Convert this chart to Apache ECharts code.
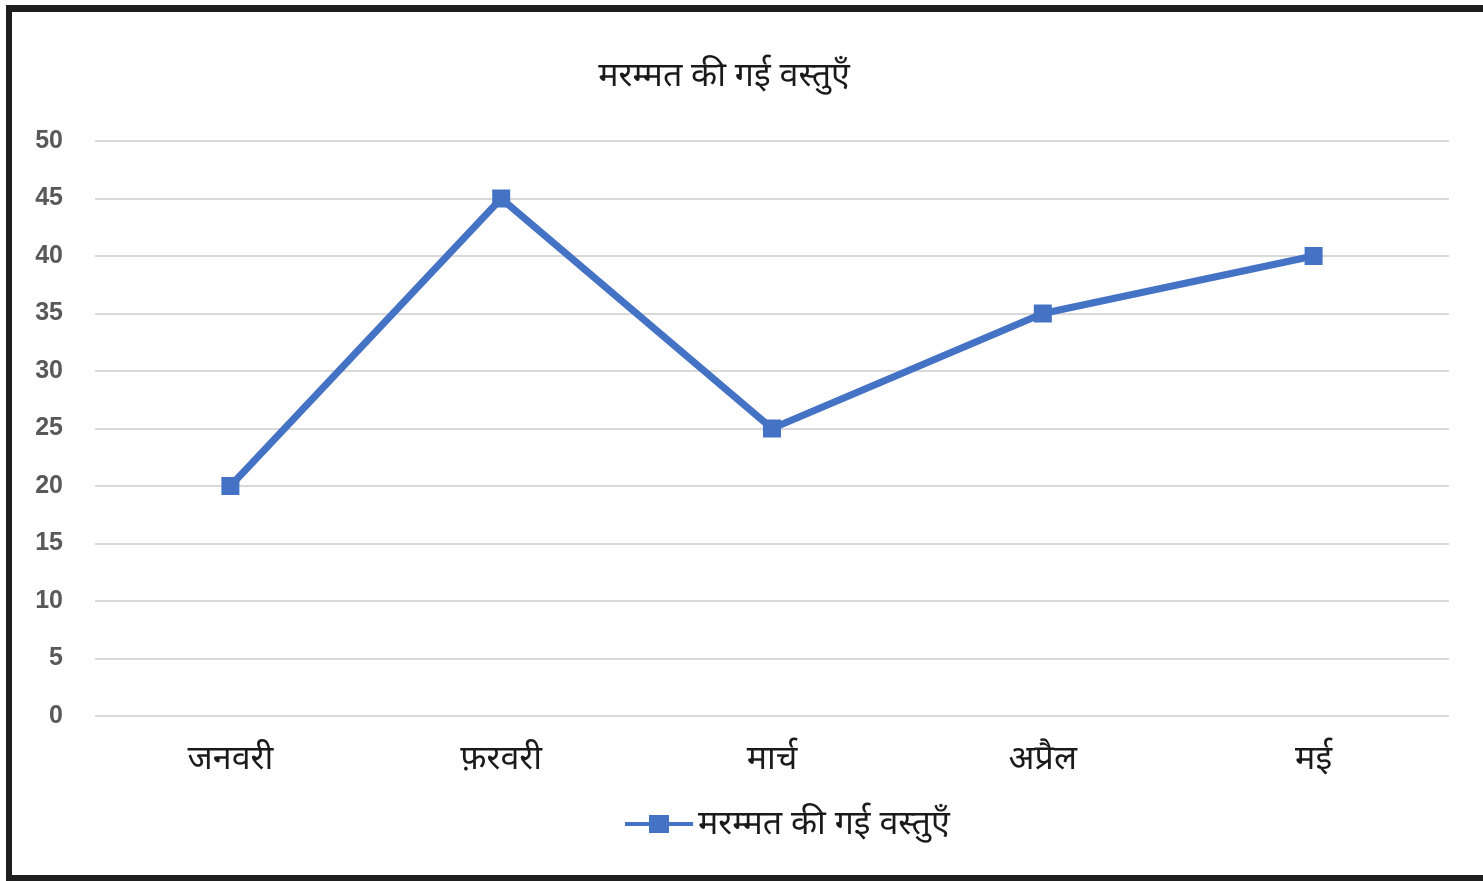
<!DOCTYPE html>
<html>
<head>
<meta charset="utf-8">
<script src="https://cdn.jsdelivr.net/npm/echarts@6/dist/echarts.min.js"></script>
<style>
html,body{margin:0;padding:0;background:#fff;overflow:hidden;}
#chart{position:absolute;left:0;top:0;width:1483px;height:881px;}
.b{position:absolute;background:#1e1e1e;}
</style>
</head>
<body>
<div id="chart"></div>
<div class="b" style="left:6px;top:5px;width:1477px;height:7px;"></div>
<div class="b" style="left:6px;top:5px;width:6px;height:876px;"></div>
<div class="b" style="left:6px;top:875px;width:1477px;height:6px;"></div>
<script>
const titleText = 'मरम्मत की गई वस्तुएँ';
const seriesName = 'मरम्मत की गई वस्तुएँ';
const categories = ['जनवरी', 'फ़रवरी', 'मार्च', 'अप्रैल', 'मई'];
const values = [20, 45, 25, 35, 40];
const yMin = 0, yMax = 50, yStep = 5;

const font = "'Noto Sans', 'Liberation Sans', sans-serif";
const chart = echarts.init(document.getElementById('chart'));
chart.setOption({
  animation: false,
  backgroundColor: '#fff',
  title: {
    text: titleText,
    left: 719, top: 54, textAlign: 'center',
    textStyle: {fontFamily: font, fontSize: 34, fontWeight: 'normal', color: '#1a1a1a'}
  },
  legend: {
    data: [seriesName],
    left: 620, top: 802,
    itemWidth: 68, itemHeight: 18, itemGap: 10,
    icon: 'path://M0,7 L24,7 L24,0 L44,0 L44,7 L68,7 L68,11 L44,11 L44,18 L24,18 L24,11 L0,11 Z',
    textStyle: {fontFamily: font, fontSize: 34, color: '#1a1a1a'}
  },
  grid: {left: 95, right: 34, top: 141, bottom: 165, containLabel: false},
  xAxis: {
    type: 'category', data: categories, boundaryGap: true,
    axisLine: {show: false}, axisTick: {show: false},
    axisLabel: {fontFamily: font, fontSize: 34, color: '#1a1a1a', margin: 26}
  },
  yAxis: {
    type: 'value', min: yMin, max: yMax, interval: yStep,
    axisLine: {show: false}, axisTick: {show: false},
    axisLabel: {fontFamily: "'Liberation Sans', Arial, sans-serif", fontSize: 25, fontWeight: 'bold', color: '#595959', margin: 32, padding: [4, 0, 0, 0]},
    splitLine: {lineStyle: {color: '#d9d9d9', width: 2}}
  },
  series: [{
    name: seriesName, type: 'line', data: values,
    symbol: 'rect', symbolSize: 18,
    lineStyle: {color: '#4472C4', width: 7},
    itemStyle: {color: '#4472C4'}
  }]
});
</script>
</body>
</html>
